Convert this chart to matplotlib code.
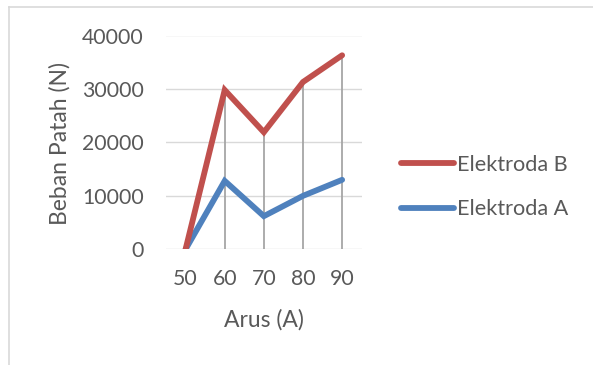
import matplotlib
matplotlib.use('Agg')
import matplotlib.pyplot as plt
from matplotlib.lines import Line2D

# ── Data ─────────────────────────────────────────────────────────────────────
arus = [50, 60, 70, 80, 90]
elektroda_a = [0, 12800, 6200, 10000, 13000]
elektroda_b = [0, 29800, 21900, 31300, 36300]
y_ticks = [0, 10000, 20000, 30000, 40000]

RED = '#C0504D'
BLUE = '#4F81BD'
TXT = '#595959'
FONT = 'Lato'
FS_TICK = 15.3
FS_LAB = 16.5
FS_LEG = 15.6
LW = 4.2

plt.rcParams['font.family'] = [FONT, 'DejaVu Sans']

fig = plt.figure(figsize=(5.93, 3.65), dpi=100)
fig.patch.set_facecolor('white')
ax = fig.add_axes([166 / 593, 1 - 249.3 / 365, (361.7 - 166) / 593, (249.3 - 35.5) / 365])

# gridlines
for t in y_ticks:
    ax.axhline(t, color='#D9D9D9', lw=1.0, zorder=1)

# drop lines from the higher series down to the axis
tops = [max(a, b) for a, b in zip(elektroda_a, elektroda_b)]
ax.vlines(arus[1:], 0, tops[1:], color='#A6A6A6', lw=1.3, zorder=2)

ax.plot(arus, elektroda_a, color=BLUE, lw=LW, solid_capstyle='round',
        solid_joinstyle='miter', zorder=3)
ax.plot(arus, elektroda_b, color=RED, lw=LW, solid_capstyle='round',
        solid_joinstyle='miter', zorder=4)

ax.set_xlim(45, 95)
ax.set_ylim(0, 40000)
ax.set_xticks(arus)
ax.set_yticks(y_ticks)
ax.tick_params(length=0, labelsize=FS_TICK, labelcolor=TXT)
ax.tick_params(axis='y', pad=16)
ax.tick_params(axis='x', pad=14)
for sp in ax.spines.values():
    sp.set_visible(False)

fig.text(60 / 593, 1 - 143 / 365, 'Beban Patah (N)', rotation=90, ha='center',
         va='center', color=TXT, fontsize=FS_LAB)
fig.text(264 / 593, 1 - 320 / 365, 'Arus (A)', ha='center', va='center',
         color=TXT, fontsize=FS_LAB)

# legend
handles = [Line2D([], [], color=RED, lw=LW, solid_capstyle='round'),
           Line2D([], [], color=BLUE, lw=LW, solid_capstyle='round')]
leg = fig.legend(handles, ['Elektroda B', 'Elektroda A'], loc='upper left',
                 bbox_to_anchor=(401 / 593, 1 - 155 / 365), frameon=False,
                 fontsize=FS_LEG, handlelength=2.45, handletextpad=0.15,
                 labelspacing=1.12, borderpad=0, borderaxespad=0)
for t in leg.get_texts():
    t.set_color(TXT)

# outer chart border (top and left edges visible)
fig.add_artist(Line2D([8.5 / 593, 1], [1 - 6.5 / 365, 1 - 6.5 / 365],
                      color='#D9D9D9', lw=1.2, transform=fig.transFigure))
fig.add_artist(Line2D([8.5 / 593, 8.5 / 593], [0, 1 - 6.5 / 365],
                      color='#D9D9D9', lw=1.2, transform=fig.transFigure))

fig.savefig('out.png', dpi=100, facecolor='white')
